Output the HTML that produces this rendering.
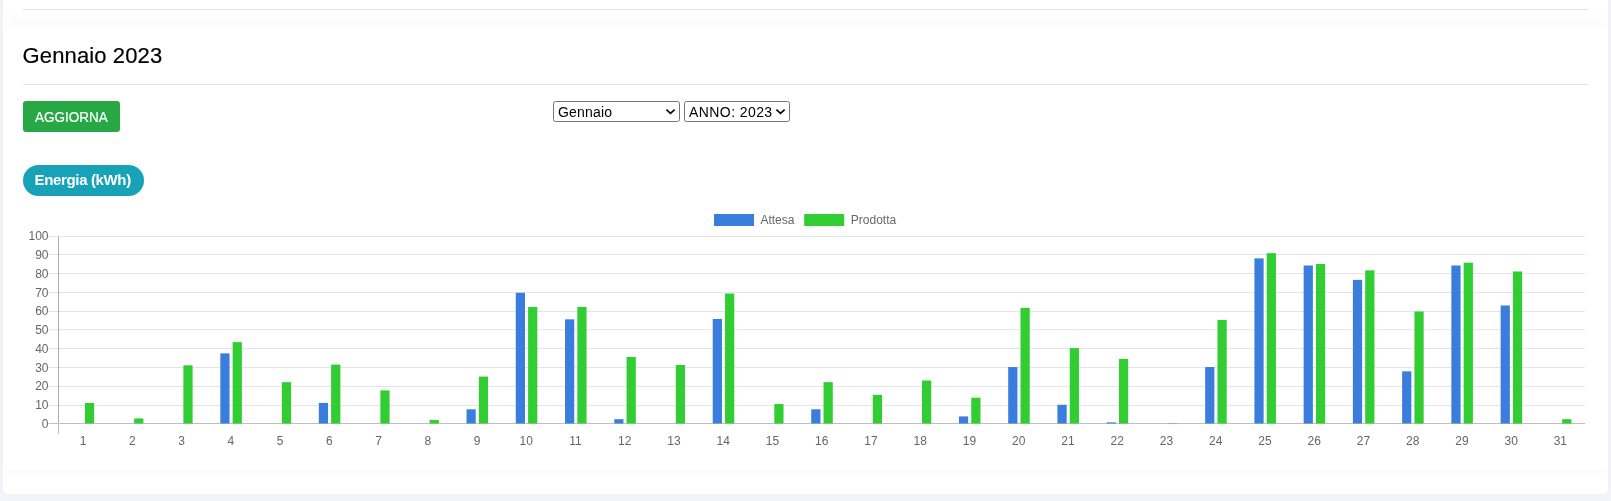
<!DOCTYPE html>
<html><head><meta charset="utf-8"><title>Gennaio 2023</title>
<style>
html,body{margin:0;padding:0;}
body{width:1611px;height:501px;overflow:hidden;background:#f4f4fb;font-family:"Liberation Sans",sans-serif;position:relative;}
.outer{position:absolute;left:3px;top:-20px;width:1605px;height:514px;background:#fff;border-radius:5px;box-shadow:0 0 12px 0 rgba(33,37,41,.03);}
.clip{position:absolute;left:3px;top:-20px;width:1605px;height:514px;border-radius:5px;overflow:hidden;}
.card{position:absolute;left:0;width:1605px;background:#fff;box-shadow:0 0 14px 0 rgba(33,37,41,.05);}
.wrap{position:absolute;left:0;top:0;width:1611px;height:501px;will-change:transform;}
.hr{position:absolute;left:23px;width:1565px;height:1px;}
.title{position:absolute;left:22.6px;top:41.1px;font-size:22px;letter-spacing:0.12px;line-height:30px;-webkit-text-stroke:0.2px #000;color:#000;white-space:nowrap;}
.btn{position:absolute;left:23px;top:101px;width:97px;height:31px;background:#28a745;border-radius:3px;color:#fff;font-size:15px;line-height:31.2px;text-align:center;-webkit-text-stroke:0.2px #fff;}
.btn span{display:inline-block;transform:scaleX(0.9);transform-origin:50% 50%;}
.badge{position:absolute;left:23px;top:165px;width:121px;height:31px;background:#17a2b8;border-radius:16px;color:#fff;font-size:15px;font-weight:bold;letter-spacing:-0.36px;line-height:30px;text-align:center;text-indent:-1.6px;}
.sel{position:absolute;top:101px;height:19px;border:1px solid #767676;border-radius:2.5px;background:#fff;font-size:14px;line-height:19px;color:#000;white-space:nowrap;}
.sel span{position:absolute;left:4px;top:1px;}
.sel svg{position:absolute;right:3px;top:5.5px;}
</style></head><body>
<div class="outer"></div>
<div class="clip"><div class="card" style="top:-20px;height:55px;box-shadow:0 0 14px 0 rgba(33,37,41,.025)"></div>
<div class="card" style="top:47px;height:443px;box-shadow:0 0 14px 0 rgba(33,37,41,.04)"></div></div>
<div class="wrap">
<div class="hr" style="top:9px;background:#dee2e6"></div>
<div class="title">Gennaio 2023</div>
<div class="hr" style="top:84px;background:#e5e5e5"></div>
<div class="btn"><span>AGGIORNA</span></div>
<div class="sel" style="left:553px;width:125px"><span style="letter-spacing:0.2px">Gennaio</span><svg width="11" height="8" viewBox="0 0 11 8"><path d="M1.4 1.7 L5.5 5.4 L9.6 1.7" fill="none" stroke="#000" stroke-width="1.6"/></svg></div>
<div class="sel" style="left:684px;width:104px"><span style="letter-spacing:0.42px">ANNO: 2023</span><svg width="11" height="8" viewBox="0 0 11 8"><path d="M1.4 1.7 L5.5 5.4 L9.6 1.7" fill="none" stroke="#000" stroke-width="1.6"/></svg></div>
<div class="badge">Energia (kWh)</div>
<svg width="1611" height="501" style="position:absolute;left:0;top:0" font-family="Liberation Sans, sans-serif" font-size="12" fill="#666">
<line x1="48.5" x2="1585.0" y1="423.50" y2="423.50" stroke="rgba(0,0,0,0.25)" stroke-width="1"/>
<text x="48.5" y="428" text-anchor="end">0</text>
<line x1="48.5" x2="1585.0" y1="405.50" y2="405.50" stroke="rgba(0,0,0,0.1)" stroke-width="1"/>
<text x="48.5" y="409" text-anchor="end">10</text>
<line x1="48.5" x2="1585.0" y1="386.50" y2="386.50" stroke="rgba(0,0,0,0.1)" stroke-width="1"/>
<text x="48.5" y="390" text-anchor="end">20</text>
<line x1="48.5" x2="1585.0" y1="367.50" y2="367.50" stroke="rgba(0,0,0,0.1)" stroke-width="1"/>
<text x="48.5" y="372" text-anchor="end">30</text>
<line x1="48.5" x2="1585.0" y1="348.50" y2="348.50" stroke="rgba(0,0,0,0.1)" stroke-width="1"/>
<text x="48.5" y="353" text-anchor="end">40</text>
<line x1="48.5" x2="1585.0" y1="329.70" y2="329.70" stroke="rgba(0,0,0,0.1)" stroke-width="1"/>
<text x="48.5" y="334" text-anchor="end">50</text>
<line x1="48.5" x2="1585.0" y1="311.50" y2="311.50" stroke="rgba(0,0,0,0.1)" stroke-width="1"/>
<text x="48.5" y="315" text-anchor="end">60</text>
<line x1="48.5" x2="1585.0" y1="292.50" y2="292.50" stroke="rgba(0,0,0,0.1)" stroke-width="1"/>
<text x="48.5" y="297" text-anchor="end">70</text>
<line x1="48.5" x2="1585.0" y1="273.50" y2="273.50" stroke="rgba(0,0,0,0.1)" stroke-width="1"/>
<text x="48.5" y="278" text-anchor="end">80</text>
<line x1="48.5" x2="1585.0" y1="254.50" y2="254.50" stroke="rgba(0,0,0,0.1)" stroke-width="1"/>
<text x="48.5" y="259" text-anchor="end">90</text>
<line x1="48.5" x2="1585.0" y1="236.50" y2="236.50" stroke="rgba(0,0,0,0.1)" stroke-width="1"/>
<text x="48.5" y="240" text-anchor="end">100</text>
<line x1="58.5" x2="58.5" y1="236.5" y2="423.5" stroke="rgba(0,0,0,0.1)" stroke-width="1"/>
<line x1="58.5" x2="58.5" y1="236.5" y2="433.9" stroke="rgba(0,0,0,0.25)" stroke-width="1"/>
<rect x="58" y="423" width="1" height="1" fill="#d4d4d4"/>
<rect x="84.91" y="402.93" width="9.23" height="20.57" fill="#32cd32"/>
<text x="83.12" y="444.8" text-anchor="middle">1</text>
<rect x="134.15" y="418.45" width="9.23" height="5.05" fill="#32cd32"/>
<text x="132.36" y="444.8" text-anchor="middle">2</text>
<rect x="183.39" y="365.34" width="9.23" height="58.16" fill="#32cd32"/>
<text x="181.60" y="444.8" text-anchor="middle">3</text>
<rect x="220.33" y="353.38" width="9.23" height="70.12" fill="#3b7ddd"/>
<rect x="232.64" y="342.15" width="9.23" height="81.34" fill="#32cd32"/>
<text x="230.85" y="444.8" text-anchor="middle">4</text>
<rect x="281.88" y="382.17" width="9.23" height="41.33" fill="#32cd32"/>
<text x="280.09" y="444.8" text-anchor="middle">5</text>
<rect x="318.81" y="402.93" width="9.23" height="20.57" fill="#3b7ddd"/>
<rect x="331.12" y="364.60" width="9.23" height="58.91" fill="#32cd32"/>
<text x="329.33" y="444.8" text-anchor="middle">6</text>
<rect x="380.36" y="390.40" width="9.23" height="33.10" fill="#32cd32"/>
<text x="378.57" y="444.8" text-anchor="middle">7</text>
<rect x="429.60" y="419.95" width="9.23" height="3.55" fill="#32cd32"/>
<text x="427.81" y="444.8" text-anchor="middle">8</text>
<rect x="466.53" y="409.29" width="9.23" height="14.21" fill="#3b7ddd"/>
<rect x="478.85" y="376.56" width="9.23" height="46.94" fill="#32cd32"/>
<text x="477.06" y="444.8" text-anchor="middle">9</text>
<rect x="515.78" y="292.79" width="9.23" height="130.71" fill="#3b7ddd"/>
<rect x="528.09" y="307.00" width="9.23" height="116.50" fill="#32cd32"/>
<text x="526.30" y="444.8" text-anchor="middle">10</text>
<rect x="565.02" y="319.34" width="9.23" height="104.16" fill="#3b7ddd"/>
<rect x="577.33" y="307.00" width="9.23" height="116.50" fill="#32cd32"/>
<text x="575.54" y="444.8" text-anchor="middle">11</text>
<rect x="614.26" y="419.20" width="9.23" height="4.30" fill="#3b7ddd"/>
<rect x="626.57" y="356.93" width="9.23" height="66.57" fill="#32cd32"/>
<text x="624.78" y="444.8" text-anchor="middle">12</text>
<rect x="675.81" y="364.97" width="9.23" height="58.53" fill="#32cd32"/>
<text x="674.02" y="444.8" text-anchor="middle">13</text>
<rect x="712.74" y="318.97" width="9.23" height="104.53" fill="#3b7ddd"/>
<rect x="725.05" y="293.53" width="9.23" height="129.97" fill="#32cd32"/>
<text x="723.27" y="444.8" text-anchor="middle">14</text>
<rect x="774.30" y="404.05" width="9.23" height="19.45" fill="#32cd32"/>
<text x="772.51" y="444.8" text-anchor="middle">15</text>
<rect x="811.23" y="409.29" width="9.23" height="14.21" fill="#3b7ddd"/>
<rect x="823.54" y="382.17" width="9.23" height="41.33" fill="#32cd32"/>
<text x="821.75" y="444.8" text-anchor="middle">16</text>
<rect x="872.78" y="394.89" width="9.23" height="28.61" fill="#32cd32"/>
<text x="870.99" y="444.8" text-anchor="middle">17</text>
<rect x="922.02" y="380.49" width="9.23" height="43.01" fill="#32cd32"/>
<text x="920.23" y="444.8" text-anchor="middle">18</text>
<rect x="958.95" y="416.39" width="9.23" height="7.11" fill="#3b7ddd"/>
<rect x="971.26" y="397.69" width="9.23" height="25.81" fill="#32cd32"/>
<text x="969.48" y="444.8" text-anchor="middle">19</text>
<rect x="1008.20" y="367.03" width="9.23" height="56.47" fill="#3b7ddd"/>
<rect x="1020.51" y="307.93" width="9.23" height="115.57" fill="#32cd32"/>
<text x="1018.72" y="444.8" text-anchor="middle">20</text>
<rect x="1057.44" y="404.80" width="9.23" height="18.70" fill="#3b7ddd"/>
<rect x="1069.75" y="348.14" width="9.23" height="75.36" fill="#32cd32"/>
<text x="1067.96" y="444.8" text-anchor="middle">21</text>
<rect x="1106.68" y="422.38" width="9.23" height="1.12" fill="#3b7ddd"/>
<rect x="1118.99" y="358.99" width="9.23" height="64.52" fill="#32cd32"/>
<text x="1117.20" y="444.8" text-anchor="middle">22</text>
<rect x="1168.23" y="423.13" width="9.23" height="0.37" fill="#32cd32"/>
<text x="1166.44" y="444.8" text-anchor="middle">23</text>
<rect x="1205.16" y="367.03" width="9.23" height="56.47" fill="#3b7ddd"/>
<rect x="1217.47" y="319.90" width="9.23" height="103.60" fill="#32cd32"/>
<text x="1215.69" y="444.8" text-anchor="middle">24</text>
<rect x="1254.41" y="258.38" width="9.23" height="165.12" fill="#3b7ddd"/>
<rect x="1266.72" y="253.14" width="9.23" height="170.36" fill="#32cd32"/>
<text x="1264.93" y="444.8" text-anchor="middle">25</text>
<rect x="1303.65" y="265.49" width="9.23" height="158.02" fill="#3b7ddd"/>
<rect x="1315.96" y="263.99" width="9.23" height="159.51" fill="#32cd32"/>
<text x="1314.17" y="444.8" text-anchor="middle">26</text>
<rect x="1352.89" y="279.88" width="9.23" height="143.62" fill="#3b7ddd"/>
<rect x="1365.20" y="270.35" width="9.23" height="153.15" fill="#32cd32"/>
<text x="1363.41" y="444.8" text-anchor="middle">27</text>
<rect x="1402.13" y="371.33" width="9.23" height="52.17" fill="#3b7ddd"/>
<rect x="1414.44" y="311.49" width="9.23" height="112.01" fill="#32cd32"/>
<text x="1412.65" y="444.8" text-anchor="middle">28</text>
<rect x="1451.37" y="265.49" width="9.23" height="158.02" fill="#3b7ddd"/>
<rect x="1463.68" y="262.68" width="9.23" height="160.82" fill="#32cd32"/>
<text x="1461.90" y="444.8" text-anchor="middle">29</text>
<rect x="1500.62" y="305.50" width="9.23" height="118.00" fill="#3b7ddd"/>
<rect x="1512.93" y="271.47" width="9.23" height="152.03" fill="#32cd32"/>
<text x="1511.14" y="444.8" text-anchor="middle">30</text>
<rect x="1562.17" y="419.20" width="9.23" height="4.30" fill="#32cd32"/>
<text x="1560.38" y="444.8" text-anchor="middle">31</text>
<rect x="714" y="214" width="40" height="12" fill="#3b7ddd"/>
<text x="760.4" y="223.8">Attesa</text>
<rect x="804.2" y="214" width="40" height="12" fill="#32cd32"/>
<text x="850.8" y="223.8">Prodotta</text>
</svg>
</div>
</body></html>
